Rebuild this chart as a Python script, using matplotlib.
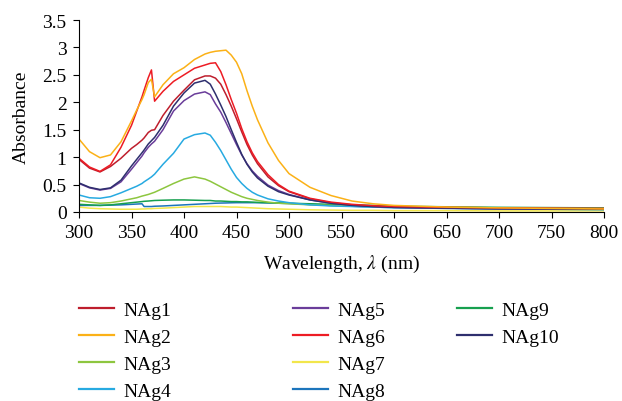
import numpy as np
import matplotlib
matplotlib.use("Agg")
import matplotlib.pyplot as plt

plt.rcParams['font.family'] = ['Liberation Serif', 'DejaVu Serif']
plt.rcParams['mathtext.fontset'] = 'stix'

# wavelength grid (nm)
wl = [300, 310, 320, 330, 340, 350, 355, 360, 362, 366, 369, 372, 380, 390, 400,
      410, 420, 425, 430, 435, 440, 445, 450, 455, 460, 465, 470, 480, 490, 500,
      520, 540, 560, 580, 600, 650, 700, 750, 800]

nag1 = [0.96, 0.80, 0.73, 0.83, 0.98, 1.16, 1.23, 1.31, 1.35, 1.45, 1.49, 1.50, 1.76,
        2.02, 2.22, 2.41, 2.48, 2.48, 2.44, 2.33, 2.14, 1.93, 1.70, 1.46, 1.23, 1.04,
        0.88, 0.64, 0.48, 0.37, 0.24, 0.17, 0.13, 0.105, 0.09, 0.075, 0.065, 0.06, 0.055]
nag2 = [1.33, 1.10, 0.99, 1.04, 1.28, 1.66, 1.86, 2.05, 2.14, 2.36, 2.42, 2.10, 2.32,
        2.52, 2.63, 2.78, 2.88, 2.91, 2.93, 2.94, 2.95, 2.86, 2.73, 2.52, 2.21, 1.93,
        1.68, 1.26, 0.94, 0.70, 0.45, 0.30, 0.20, 0.15, 0.12, 0.09, 0.075, 0.065, 0.055]
nag3 = [0.21, 0.18, 0.16, 0.17, 0.20, 0.24, 0.26, 0.29, 0.30, 0.32, 0.34, 0.36, 0.43,
        0.52, 0.60, 0.64, 0.60, 0.56, 0.51, 0.46, 0.41, 0.36, 0.32, 0.28, 0.25, 0.23,
        0.21, 0.18, 0.16, 0.15, 0.13, 0.12, 0.11, 0.10, 0.095, 0.085, 0.075, 0.07, 0.065]
nag4 = [0.31, 0.26, 0.25, 0.28, 0.35, 0.43, 0.47, 0.52, 0.55, 0.60, 0.64, 0.69, 0.87,
        1.07, 1.33, 1.41, 1.44, 1.40, 1.27, 1.12, 0.95, 0.78, 0.63, 0.52, 0.43, 0.36,
        0.31, 0.24, 0.20, 0.17, 0.13, 0.11, 0.10, 0.09, 0.08, 0.07, 0.06, 0.05, 0.045]
nag5 = [0.52, 0.44, 0.40, 0.43, 0.55, 0.78, 0.90, 1.02, 1.08, 1.18, 1.24, 1.29, 1.50,
        1.84, 2.03, 2.15, 2.19, 2.14, 1.97, 1.82, 1.63, 1.43, 1.23, 1.04, 0.88, 0.75,
        0.65, 0.49, 0.39, 0.32, 0.22, 0.16, 0.125, 0.10, 0.085, 0.07, 0.06, 0.055, 0.05]
nag6 = [0.98, 0.82, 0.74, 0.86, 1.18, 1.58, 1.84, 2.10, 2.22, 2.45, 2.59, 2.02, 2.20,
        2.38, 2.50, 2.62, 2.68, 2.71, 2.72, 2.56, 2.32, 2.05, 1.80, 1.52, 1.28, 1.08,
        0.92, 0.68, 0.50, 0.38, 0.25, 0.18, 0.14, 0.115, 0.10, 0.085, 0.075, 0.07, 0.065]
nag7 = [0.09, 0.07, 0.06, 0.055, 0.05, 0.05, 0.05, 0.055, 0.055, 0.06, 0.06, 0.065, 0.07,
        0.08, 0.09, 0.10, 0.10, 0.10, 0.10, 0.10, 0.095, 0.09, 0.09, 0.085, 0.08, 0.075,
        0.07, 0.06, 0.055, 0.05, 0.04, 0.035, 0.03, 0.03, 0.025, 0.025, 0.02, 0.02, 0.02]
nag8 = [0.12, 0.12, 0.12, 0.125, 0.13, 0.14, 0.145, 0.15, 0.10, 0.10, 0.10, 0.105, 0.11,
        0.12, 0.13, 0.14, 0.15, 0.155, 0.16, 0.163, 0.165, 0.168, 0.17, 0.17, 0.17, 0.17,
        0.17, 0.165, 0.16, 0.155, 0.14, 0.12, 0.105, 0.09, 0.08, 0.065, 0.055, 0.05, 0.045]
nag9 = [0.14, 0.13, 0.12, 0.13, 0.15, 0.17, 0.18, 0.19, 0.195, 0.20, 0.205, 0.21, 0.215,
        0.22, 0.22, 0.215, 0.21, 0.21, 0.20, 0.20, 0.195, 0.19, 0.19, 0.185, 0.185, 0.18,
        0.175, 0.17, 0.165, 0.16, 0.15, 0.14, 0.13, 0.12, 0.105, 0.095, 0.085, 0.08, 0.075]
nag10 = [0.53, 0.45, 0.41, 0.44, 0.58, 0.84, 0.96, 1.08, 1.13, 1.24, 1.30, 1.36, 1.58,
         1.93, 2.17, 2.35, 2.40, 2.33, 2.15, 1.95, 1.74, 1.50, 1.27, 1.05, 0.87, 0.73,
         0.62, 0.47, 0.37, 0.31, 0.22, 0.16, 0.12, 0.10, 0.085, 0.07, 0.06, 0.055, 0.05]

names = ['NAg1', 'NAg2', 'NAg3', 'NAg4', 'NAg5', 'NAg6', 'NAg7', 'NAg8', 'NAg9', 'NAg10']
series = [nag1, nag2, nag3, nag4, nag5, nag6, nag7, nag8, nag9, nag10]
colors = ['#BE1E2D', '#FBB117', '#8DC63F', '#27AAE1', '#6A3D9A',
          '#ED1C24', '#F2E64B', '#1C75BC', '#17A04F', '#2E2F6E']

fig = plt.figure(figsize=(6.22, 4.02), dpi=100)
ax = fig.add_axes([79/622, 1-213/402, (604-79)/622, (213-21)/402])

# draw small ones first so the big peaks sit on top
order = [6, 7, 8, 2, 3, 0, 4, 9, 5, 1]
lines = {}
for i in order:
    ln, = ax.plot(wl, series[i], color=colors[i], lw=1.1, label=names[i])
    lines[i] = ln

ax.set_xlim(300, 800)
ax.set_ylim(0, 3.5)
ax.set_xticks(np.arange(300, 801, 50))
ax.set_yticks(np.arange(0, 3.51, 0.5))
ax.set_yticklabels(['0', '0.5', '1', '1.5', '2', '2.5', '3', '3.5'])
ax.spines['top'].set_visible(False)
ax.spines['right'].set_visible(False)
ax.tick_params(direction='out', length=4, width=0.8, labelsize=14, pad=5)
ax.set_xlabel(r'Wavelength, $\lambda$ (nm)', fontsize=14, labelpad=8)
ax.set_ylabel('Absorbance', fontsize=14, labelpad=9)

# legend in three columns (4, 4, 2)
cols = [[0, 1, 2, 3], [4, 5, 6, 7], [8, 9]]
xs = [79, 293, 457]
for c, x0 in zip(cols, xs):
    leg = fig.legend([lines[i] for i in c], [names[i] for i in c],
                     loc='upper left', bbox_to_anchor=(x0/622, 1-302/402),
                     frameon=False, fontsize=14, handlelength=1.8,
                     handletextpad=0.5, labelspacing=0.49,
                     borderpad=0, borderaxespad=0)
    for h in leg.get_lines():
        h.set_linewidth(1.6)

fig.savefig('out.png', dpi=100)
